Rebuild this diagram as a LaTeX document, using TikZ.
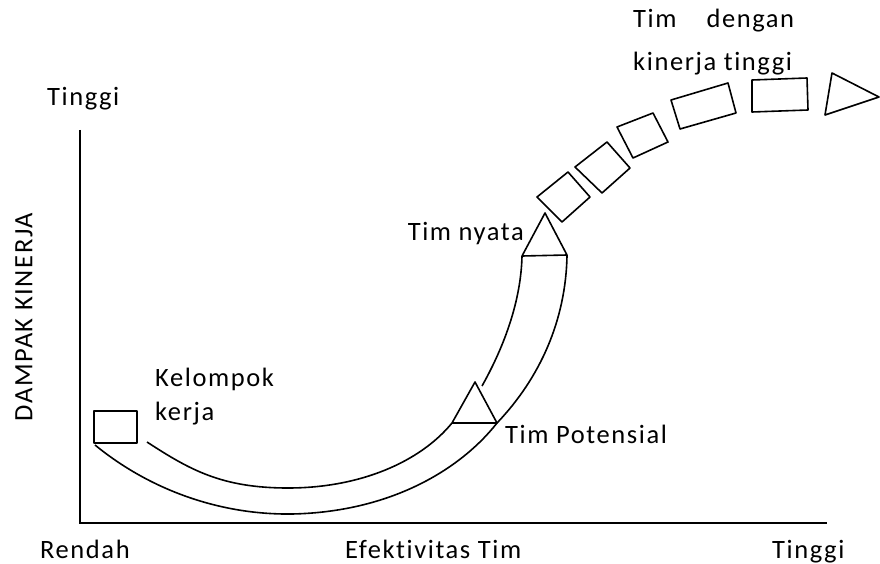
\documentclass[tikz,border=0pt]{standalone}
\usepackage{fontspec}
\setmainfont[LetterSpace=6,Ligatures=NoCommon]{Carlito}
\begin{document}
\begin{tikzpicture}[x=1pt,y=-1pt,
  lbl/.style={inner sep=0pt,font=\fontsize{26.5}{29}\selectfont},
  axisline/.style={line width=2pt},
  shapeline/.style={line width=1.6pt,line join=round}]
\useasboundingbox (0,0) rectangle (880,564);
% axes
\coordinate (ytop) at (80,130);
\coordinate (orig) at (80,523);
\coordinate (xend) at (827,523);
\draw[axisline] (ytop) -- (orig) -- (xend);
% start box (Kelompok kerja)
\coordinate (b0a) at (94,411);
\coordinate (b0b) at (137,443);
\draw[shapeline] (b0a) rectangle (b0b);
% outer band curve
\coordinate (o1) at (95,445);
\coordinate (o2) at (292,514);
\coordinate (tpR) at (497,423);
\coordinate (tnR) at (567,255);
\draw[shapeline] (o1) .. controls (150,490) and (220,515) .. (o2)
  .. controls (390,512) and (460,470) .. (tpR)
  .. controls (540,378) and (566,320) .. (tnR);
% inner band curve
\coordinate (i1) at (147,442);
\coordinate (i2) at (288,488);
\coordinate (tpL) at (452,423);
\coordinate (i3) at (482,386);
\coordinate (tnL) at (522,256);
\draw[shapeline] (i1) .. controls (190,470) and (222,488) .. (i2)
  .. controls (360,488) and (420,462) .. (tpL);
\draw[shapeline] (i3) .. controls (505,345) and (521,300) .. (tnL);
% triangles
\coordinate (tpA) at (475,382);
\coordinate (tnA) at (545,213);
\draw[shapeline] (tpL) -- (tpA) -- (tpR) -- cycle;
\draw[shapeline] (tnL) -- (tnA) -- (tnR) -- cycle;
% rotated boxes
\draw[shapeline] (537,197) -- (568,172) -- (590,197) -- (562,222) -- cycle;
\draw[shapeline] (575,167) -- (607,142) -- (630,168) -- (602,193) -- cycle;
\draw[shapeline] (617,127) -- (653,113) -- (668,142) -- (633,158) -- cycle;
\draw[shapeline] (671,100) -- (728,83) -- (736,113) -- (680,129) -- cycle;
\draw[shapeline] (752,80) -- (807,78) -- (808,110) -- (752,112) -- cycle;
% end triangle
\draw[shapeline] (832,73) -- (879,97) -- (825,115) -- cycle;
% labels
\node[lbl,anchor=base west] (ytoplbl) at (47,106) {Tinggi};
\node[lbl,rotate=90] (ylbl) at (24,317) {DAMPAK KINERJA};
\node[lbl,anchor=base west] (kel1) at (155,386) {Kelompok};
\node[lbl,anchor=base west] (kel2) at (155,420) {kerja};
\node[lbl,anchor=base east] (tnlbl) at (524,240) {Tim nyata};
\node[lbl,anchor=base west] (tplbl) at (505,443) {Tim Potensial};
\node[lbl,anchor=base west] (hk1) at (633,28) {Tim\hspace{30pt}dengan};
\node[lbl,anchor=base west] (hk2) at (633,71) {kinerja tinggi};
\node[lbl,anchor=base west] (xlo) at (40,558) {Rendah};
\node[lbl,anchor=base west] (xmid) at (345,558) {Efektivitas Tim};
\node[lbl,anchor=base west] (xhi) at (772,558) {Tinggi};
\end{tikzpicture}
\end{document}
